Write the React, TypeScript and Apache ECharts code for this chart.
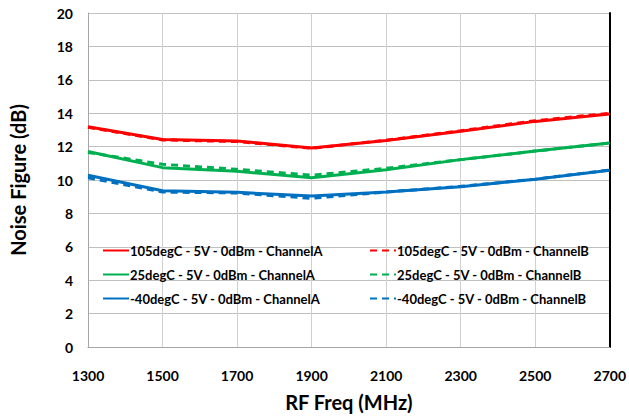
import React, { useEffect, useRef } from "react";
import * as echarts from "echarts";

const freqs = [1300, 1500, 1700, 1900, 2100, 2300, 2500, 2700];
const hotA = [13.19, 12.42, 12.34, 11.91, 12.36, 12.92, 13.51, 13.95];
const hotB = [13.15, 12.4, 12.3, 11.9, 12.38, 12.95, 13.55, 14.0];
const roomA = [11.71, 10.74, 10.52, 10.13, 10.62, 11.22, 11.73, 12.22];
const roomB = [11.65, 10.94, 10.64, 10.29, 10.7, 11.22, 11.73, 12.22];
const coldA = [10.29, 9.36, 9.26, 9.04, 9.28, 9.59, 10.05, 10.58];
const coldB = [10.13, 9.28, 9.22, 8.9, 9.28, 9.62, 10.05, 10.6];

const names = [
  "105degC - 5V - 0dBm - ChannelA",
  "25degC - 5V - 0dBm - ChannelA",
  "-40degC - 5V - 0dBm - ChannelA",
  "105degC - 5V - 0dBm - ChannelB",
  "25degC - 5V - 0dBm - ChannelB",
  "-40degC - 5V - 0dBm - ChannelB",
];
const colors = ["#FF0000", "#00B050", "#0070C0"];

const FONT = "Lato";

export default function App() {
  const ref = useRef<HTMLDivElement>(null);
  useEffect(() => {
    if (!ref.current) return;
    const chart = echarts.init(ref.current, undefined, { renderer: "svg" });
    const datasets = [hotA, roomA, coldA, hotB, roomB, coldB];
    const series = datasets.map((d, i) => ({
      name: names[i],
      type: "line",
      data: freqs.map((f, j) => [f, d[j]]),
      showSymbol: false,
      symbol: "none",
      lineStyle: {
        color: colors[i % 3],
        width: 3,
        type: i >= 3 ? [7, 5] : "solid",
      },
      itemStyle: { color: colors[i % 3] },
      z: i >= 3 ? 3 : 2,
    }));
    const legendBase = {
      orient: "vertical",
      itemWidth: 26,
      itemHeight: 14,
      itemGap: 11,
      itemStyle: { opacity: 0 },
      textStyle: { fontFamily: FONT, fontWeight: "bold", fontSize: 13, color: "#000", padding: [0, 0, 0, -4] },
      padding: 0,
    };
    const labelStyle = { fontFamily: FONT, fontWeight: "bold", fontSize: 14, color: "#000" };
    chart.setOption({
      animation: false,
      backgroundColor: "#fff",
      grid: { left: 82, right: 15, top: 13, bottom: 64 },
      legend: [
        { ...legendBase, left: 102, top: 244, data: names.slice(0, 3) },
        { ...legendBase, left: 369, top: 244, data: names.slice(3) },
      ],
      xAxis: {
        type: "value",
        min: 1300,
        max: 2700,
        interval: 200,
        name: "RF Freq (MHz)",
        nameLocation: "middle",
        nameGap: 45,
        nameTextStyle: { fontFamily: FONT, fontWeight: "bold", fontSize: 20, color: "#000" },
        axisLine: { show: true, lineStyle: { color: "#A6A6A6", width: 1 } },
        axisTick: { show: false },
        axisLabel: { ...labelStyle, margin: 21, formatter: (v: number) => String(v) },
        splitLine: { show: true, lineStyle: { color: "#D0D0D0", width: 1 } },
      },
      yAxis: [
        {
          type: "value",
          min: 0,
          max: 20,
          interval: 2,
          name: "Noise Figure (dB)",
          nameLocation: "middle",
          nameGap: 60,
          nameTextStyle: { fontFamily: FONT, fontWeight: "bold", fontSize: 20, color: "#000" },
          axisLine: { show: true, lineStyle: { color: "#A6A6A6", width: 1 } },
          axisTick: { show: false },
          axisLabel: { ...labelStyle, margin: 15 },
          splitLine: { show: true, lineStyle: { color: "#C0C0C0", width: 1 } },
        },
        {
          type: "value",
          min: 0,
          max: 20,
          interval: 2,
          position: "right",
          axisLine: { show: true, lineStyle: { color: "#000", width: 2 } },
          axisTick: { show: false },
          axisLabel: { show: false },
          splitLine: { show: false },
        },
      ],
      series,
    });
    return () => chart.dispose();
  }, []);
  return <div ref={ref} style={{ width: 629, height: 417, position: "absolute", left: 0, top: 0 }} />;
}
